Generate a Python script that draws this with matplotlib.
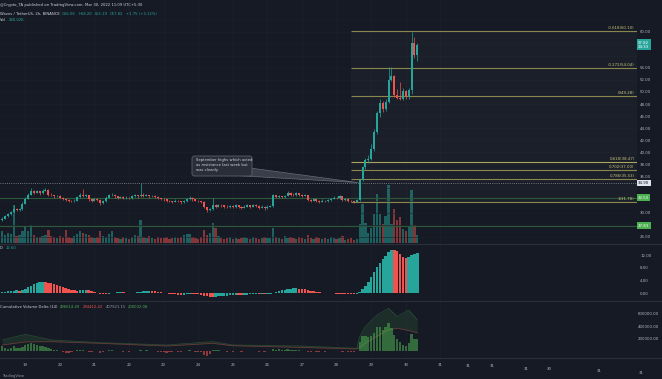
import numpy as np
import matplotlib
matplotlib.use('Agg')
import matplotlib.pyplot as plt
from matplotlib.patches import Rectangle, FancyBboxPatch, Polygon
from matplotlib.transforms import blended_transform_factory

# ---------------- data (2h bars, index 0 = Mar 19 00:00) ----------------
first_index = -8
first_open = 28.8
closes = [29.0, 29.4, 29.7, 30.1, 30.6, 30.5, 30.6, 31.5,
          32.3, 33.0, 33.6, 33.3, 33.5, 33.2, 33.6, 33.8, 33.0, 32.9, 32.7, 32.8,
          32.5, 32.3, 32.1, 32.0, 31.9, 32.0, 32.6, 33.0, 32.8, 32.9, 32.2, 32.0,
          32.3, 32.1, 31.6, 31.9, 32.5, 32.9, 33.0, 32.7, 32.5, 32.6, 32.4, 32.5,
          32.4, 32.7, 32.9, 32.7, 33.0, 32.8, 32.9, 32.7, 32.8, 32.6, 32.4, 32.3,
          32.2, 32.0, 31.9, 31.8, 32.0, 31.9, 31.7, 31.9, 32.2, 32.5, 32.2, 32.0,
          31.9, 31.8, 30.9, 30.4, 30.6, 31.2, 31.0, 31.3, 31.2, 31.0, 30.9, 31.1,
          30.9, 31.2, 31.0, 30.8, 31.0, 31.2, 31.0, 31.3, 31.1, 30.8, 31.0, 30.7,
          31.0, 31.1, 32.9, 32.6, 32.7, 32.6, 32.8, 33.3, 33.0, 32.9, 33.2, 33.0,
          32.8, 32.9, 32.1, 32.0, 32.2, 32.0, 31.8, 32.0, 31.9, 32.1, 32.3, 32.5,
          32.4, 32.7, 32.1, 32.3, 32.0, 31.9, 31.8, 32.1, 35.4, 37.5, 38.7, 38.9,
          40.6, 43.3, 46.6, 48.2, 47.1, 48.4, 52.0, 52.6, 49.5, 49.0, 48.9, 50.2,
          49.1, 50.3, 58.1, 56.07, 57.82]
highs = [29.3, 29.6, 29.9, 30.3, 31.2, 30.8, 30.8, 31.7,
         32.6, 33.3, 34.0, 33.8, 33.8, 33.6, 33.9, 34.1, 33.9, 33.2, 33.0, 33.0,
         32.9, 32.6, 32.4, 32.3, 32.1, 32.2, 32.8, 33.2, 33.9, 33.1, 33.0, 32.4,
         32.5, 32.4, 32.2, 32.1, 32.7, 33.1, 33.3, 33.1, 32.8, 32.8, 32.7, 32.7,
         32.6, 32.9, 33.1, 33.0, 34.9, 33.2, 33.1, 33.0, 33.0, 32.9, 32.7, 32.5,
         32.4, 32.3, 32.1, 32.0, 32.2, 32.1, 32.0, 32.1, 32.4, 32.7, 32.6, 32.3,
         32.1, 32.0, 31.9, 31.0, 30.8, 32.4, 31.4, 31.5, 31.4, 31.3, 31.2, 31.3,
         31.2, 31.4, 31.3, 31.1, 31.2, 31.4, 31.3, 31.5, 31.4, 31.2, 31.2, 31.1,
         31.2, 31.3, 33.1, 33.0, 32.9, 32.8, 33.0, 33.5, 33.4, 33.2, 33.4, 33.3,
         33.1, 33.1, 33.0, 32.3, 32.4, 32.3, 32.1, 32.2, 32.1, 32.3, 32.5, 32.7,
         32.6, 32.9, 32.8, 32.5, 32.4, 32.1, 32.0, 32.3, 35.6, 37.8, 39.0, 39.6,
         41.4, 43.9, 46.9, 48.8, 48.5, 48.9, 54.2, 54.2, 52.8, 50.5, 51.6, 50.6,
         50.4, 50.6, 60.0, 59.1, 58.2]
lows = [28.6, 28.9, 29.3, 29.6, 29.9, 30.3, 30.3, 30.5,
        31.4, 32.2, 32.9, 33.1, 33.2, 33.0, 33.1, 33.5, 32.8, 32.7, 32.5, 32.6,
        32.4, 32.1, 32.0, 31.8, 31.7, 31.7, 31.9, 32.5, 32.6, 32.6, 32.0, 31.8,
        31.9, 31.9, 31.3, 31.5, 31.8, 32.4, 32.7, 32.5, 32.3, 32.4, 32.2, 32.3,
        32.2, 32.3, 32.6, 32.5, 32.6, 32.6, 32.7, 32.5, 32.6, 32.4, 32.2, 32.1,
        32.0, 31.8, 31.7, 31.6, 31.7, 31.7, 31.5, 31.6, 31.8, 32.1, 32.0, 31.9,
        31.7, 31.6, 30.7, 30.1, 30.2, 30.5, 30.8, 30.9, 31.0, 30.8, 30.7, 30.8,
        30.7, 30.8, 30.8, 30.6, 30.7, 30.9, 30.8, 30.9, 30.9, 30.6, 30.7, 30.5,
        30.6, 30.9, 31.0, 32.4, 32.5, 32.4, 32.5, 32.7, 32.8, 32.7, 32.8, 32.8,
        32.6, 32.7, 31.9, 31.8, 31.9, 31.8, 31.6, 31.7, 31.7, 31.8, 32.0, 32.2,
        32.2, 32.3, 31.9, 32.0, 31.8, 31.7, 31.6, 31.7, 32.0, 35.2, 37.3, 38.3,
        38.7, 40.2, 43.0, 45.8, 46.7, 46.8, 48.2, 51.8, 49.2, 48.8, 48.6, 48.7,
        48.9, 48.9, 49.6, 55.6, 55.19]
volumes_k = [420, 280, 350, 315, 1330, 245, 280, 420,
             595, 420, 630, 280, 210, 210, 245, 280, 455, 245, 210, 175,
             245, 210, 455, 210, 175, 245, 315, 420, 350, 315, 280, 210,
             175, 210, 420, 245, 210, 315, 420, 210, 175, 140, 210, 175,
             140, 210, 280, 245, 805, 210, 175, 245, 175, 140, 210, 175,
             175, 210, 140, 175, 210, 175, 210, 280, 315, 315, 210, 175,
             140, 210, 455, 280, 350, 700, 525, 245, 175, 140, 175, 210,
             140, 175, 140, 175, 210, 175, 140, 210, 175, 140, 175, 210,
             175, 175, 525, 210, 175, 140, 245, 175, 210, 175, 140, 210,
             175, 140, 280, 175, 140, 210, 175, 140, 175, 140, 210, 175,
             140, 175, 245, 105, 140, 175, 105, 140, 675, 1375, 700, 350,
             525, 1015, 1715, 1015, 665, 945, 2030, 665, 1190, 805, 910, 490,
             420, 560, 1855, 630, 280]
macd_hist = [0.5, 0.5, 0.6, 0.7, 0.8, 0.9, 0.8, 1.2,
             1.5, 1.9, 2.4, 2.9, 3.3, 3.6, 3.7, 3.6, 3.4, 3.2, 3.0, 2.7,
             2.4, 2.1, 1.8, 1.5, 1.2, 1.0, 0.85, 0.9, 1.0, 1.05, 1.0, 0.7,
             0.4, 0.2, -0.1, -0.25, -0.3, -0.2, 0.0, 0.2, 0.3, 0.35, 0.3, 0.25,
             0.2, 0.15, 0.2, 0.3, 0.5, 0.6, 0.7, 0.75, 0.7, 0.6, 0.45, 0.3,
             0.2, 0.05, -0.1, -0.25, -0.3, -0.4, -0.45, -0.4, -0.3, -0.2, -0.25, -0.3,
             -0.35, -0.4, -0.7, -1.0, -1.1, -1.15, -1.1, -1.0, -0.9, -0.8, -0.7, -0.6,
             -0.55, -0.5, -0.52, -0.55, -0.45, -0.4, -0.35, -0.3, -0.25, -0.3, -0.25, -0.3,
             -0.25, -0.2, 0.2, 0.5, 0.75, 0.95, 1.15, 1.35, 1.5, 1.55, 1.6, 1.5,
             1.4, 1.25, 1.0, 0.8, 0.6, 0.45, 0.3, 0.2, 0.1, 0.05, 0.0, -0.05,
             -0.1, -0.12, -0.15, -0.2, -0.25, -0.3, -0.32, -0.2, 0.5, 1.3, 2.3, 3.7,
             5.0, 6.6, 8.2, 9.6, 10.8, 11.9, 12.9, 13.8, 13.7, 13.2, 12.4, 11.5,
             11.0, 11.6, 12.1, 12.4, 12.6]
cvd_k = [90, 50, 45, 55, 80, 60, 50, 70,
         105, 110, 130, 125, 95, 80, 80, 75, 50, 45, 30, 20,
         10, -15, -25, -20, -10, 10, 20, 25, 20, 15, -10, -15,
         10, 5, -20, -10, 10, 20, 25, 15, 10, 12, -8, 8,
         -8, 10, 15, 12, 20, 15, 18, 10, 12, 8, -10, -12,
         -15, -18, -15, -12, 8, -10, -15, 10, 15, 20, 12, -8,
         -10, -12, -60, -70, -40, 30, 25, 30, 15, 10, -10, 10,
         -8, 12, 8, -10, 10, 12, 8, 15, 10, -10, 8, -12,
         10, 12, 35, 30, 32, 28, 30, 35, 25, 22, 25, 20,
         15, 15, -10, -12, 8, -10, -15, 8, -8, 10, 12, 15,
         10, 12, -15, 8, -10, -15, -12, 10, 157, 236, 236, 225,
         236, 290, 383, 383, 340, 383, 446, 367, 262, 194, 157, 105,
         89, 130, 278, 194, 200]
cvd_line_idx = [-8, 0, 9, 26, 49, 65, 72, 95, 115, 116, 118, 122, 126, 129, 133, 136]
cvd_upper_k = [181, 270, 181, 139, 102, 155, 102, 86, 50, 233, 391, 575, 680, 549, 654, 497]
cvd_lower_k = [102, 150, 155, 128, 86, 128, 90, 65, 39, 60, 128, 240, 340, 365, 330, 294]

day_labels = ['19', '20', '21', '22', '23', '24', '25', '26', '27', '28', '29', '30', '31']
fib_start_idx = 113
fib_prices = [60.10, 54.04, 49.28, 38.47, 37.00, 35.53, 31.78]
fib_labels = ['-0.618(60.10)', '-0.272(54.04)', '0(49.28)', '0.618(38.47)',
              '0.702(37.00)', '0.786(35.53)', '1(31.78)']
price_ticks = [26, 30, 36, 38, 40, 42, 44, 46, 48, 50, 52, 54, 60]
macd_ticks = [0, 4, 8, 12]
cvd_ticks_k = [200, 400, 600]
support_levels = [32.50, 27.83]
dotted_level = 34.90
last_price = 57.82

# ---------------- style ----------------
W, H = 662, 379
BG = '#161a25'
UP = '#26a69a'
DN = '#ef5350'
TXT = '#b2b5be'
GRID = '#1d212c'
FIB = '#8a874c'
FS = 2.8
HFS = 2.7

fig = plt.figure(figsize=(W / 100, H / 100), dpi=100, facecolor=BG)
plt.rcParams['font.family'] = ['DejaVu Sans']

PLOT_R = 637
def rect(top, bottom, left=0, right=PLOT_R):
    return [left / W, 1 - bottom / H, (right - left) / W, (bottom - top) / H]

XMIN, XMAX = -8.776, 212.2
t = np.arange(first_index, first_index + len(closes))
c = np.array(closes)
o = np.r_[first_open, c[:-1]]
hi = np.array(highs)
lo = np.array(lows)
up = c >= o
cols = np.where(up, UP, DN)
day_pos = np.arange(len(day_labels)) * 12

# volume axes (behind)
ax_v = fig.add_axes(rect(0, 243))
ax_v.set_facecolor(BG)
ax_v.set_xlim(XMIN, XMAX)
ax_v.set_ylim(0, 8505)
ax_v.axis('off')
for d in day_pos:
    ax_v.axvline(d, color=GRID, lw=0.5, zorder=0)
ax_v.bar(t, volumes_k, width=0.8, color=cols, alpha=0.5, linewidth=0, zorder=2)

# price axes
ax_p = fig.add_axes(rect(0, 243))
ax_p.set_facecolor('none')
ax_p.set_xlim(XMIN, XMAX)
ax_p.set_ylim(24.958, 65.257)
for s in ax_p.spines.values():
    s.set_visible(False)
ax_p.set_xticks([])
ax_p.yaxis.tick_right()
ax_p.set_yticks(price_ticks)
ax_p.set_yticklabels([f'{v:.2f}' for v in price_ticks])
ax_p.tick_params(axis='y', length=0, pad=2.2, labelsize=FS, labelcolor=TXT)
for p in range(26, 64, 2):
    ax_p.axhline(p, color=GRID, lw=0.4, zorder=0)

# fib background and lines
ax_p.add_patch(Rectangle((fib_start_idx, fib_prices[-1]), XMAX - fib_start_idx,
                         fib_prices[0] - fib_prices[-1], facecolor='white',
                         alpha=0.025, linewidth=0, zorder=0.5))
for lvl, lab in zip(fib_prices, fib_labels):
    colr = '#aaa65c' if lab.startswith('0.618') else FIB
    ax_p.hlines(lvl, fib_start_idx, XMAX, color=colr, lw=0.8, zorder=1)
    ax_p.text(XMAX - 0.8, lvl + 0.15, lab, color='#c9c57a', fontsize=FS,
              ha='right', va='bottom', zorder=5)

for lvl in support_levels:
    ax_p.axhline(lvl, color='#2c5a38', lw=0.8, zorder=1)
ax_p.axhline(dotted_level, color='#8f929b', lw=0.6, ls=(0, (1, 1.6)), zorder=1)

# candles
bottoms = np.minimum(o, c)
heights = np.maximum(np.abs(c - o), 0.05)
ax_p.vlines(t, lo, hi, colors=cols, lw=0.5, zorder=3)
ax_p.bar(t, heights, bottom=bottoms, width=0.7, color=cols, linewidth=0, zorder=4)

# right-axis price boxes
btr = blended_transform_factory(ax_p.transAxes, ax_p.transData)
def pbox(price, text, fc, tc, size=FS):
    ax_p.text(1.0015, price, text, transform=btr, fontsize=size, color=tc,
              ha='left', va='center', clip_on=False, zorder=10, linespacing=1.1,
              bbox=dict(boxstyle='square,pad=0.35', fc=fc, ec='none'))
pbox(last_price, f'{last_price:.2f}\n24:33', UP, 'white')
pbox(dotted_level, f'{dotted_level:.2f}', '#e0e3eb', '#131722')
pbox(support_levels[0], f'{support_levels[0]:.2f}', '#4caf50', 'white')
pbox(support_levels[1], f'{support_levels[1]:.2f}', '#4caf50', 'white')

# MACD-type histogram
ax_m = fig.add_axes(rect(244, 300))
ax_m.set_facecolor(BG)
ax_m.set_xlim(XMIN, XMAX)
ax_m.set_ylim(-2.11, 15.55)
for s in ax_m.spines.values():
    s.set_visible(False)
ax_m.set_xticks([])
ax_m.yaxis.tick_right()
ax_m.set_yticks(macd_ticks)
ax_m.set_yticklabels([f'{v:.2f}' for v in macd_ticks])
ax_m.tick_params(axis='y', length=0, pad=2.2, labelsize=FS, labelcolor=TXT)
for d in day_pos:
    ax_m.axvline(d, color=GRID, lw=0.5, zorder=0)
mh = np.array(macd_hist)
mcol = np.where(np.r_[True, mh[1:] >= mh[:-1]], UP, DN)
ax_m.bar(t, mh, width=0.85, color=mcol, linewidth=0)

# CVD
ax_c = fig.add_axes(rect(301, 357))
ax_c.set_facecolor(BG)
ax_c.set_xlim(XMIN, XMAX)
ax_c.set_ylim(-87, 795)
for s in ax_c.spines.values():
    s.set_visible(False)
ax_c.yaxis.tick_right()
ax_c.set_yticks(cvd_ticks_k)
ax_c.set_yticklabels([f'{v * 1000:.2f}' for v in cvd_ticks_k])
ax_c.tick_params(axis='y', length=0, pad=0.8, labelsize=FS, labelcolor=TXT)
ax_c.set_xticks(day_pos)
ax_c.set_xticklabels(day_labels)
ax_c.tick_params(axis='x', length=0, pad=4.0, labelsize=FS, labelcolor=TXT)
for d in day_pos:
    ax_c.axvline(d, color=GRID, lw=0.5, zorder=0)
ax_c.fill_between(cvd_line_idx, cvd_lower_k, cvd_upper_k, color='#4caf50',
                  alpha=0.13, linewidth=0, zorder=1)
ax_c.plot(cvd_line_idx, cvd_upper_k, color='#4caf50', alpha=0.3, lw=0.6, zorder=2)
ax_c.plot(cvd_line_idx, cvd_lower_k, color='#ef5350', alpha=0.35, lw=0.6, zorder=2)
cv = np.array(cvd_k)
ax_c.bar(t, cv, width=0.8, color=np.where(cv >= 0, '#4caf50', '#ef5350'),
         alpha=0.55, linewidth=0, zorder=3)

# overlay (pixel coordinates) for texts and decorations
ax_o = fig.add_axes([0, 0, 1, 1])
ax_o.set_xlim(0, W)
ax_o.set_ylim(H, 0)
ax_o.axis('off')
ax_o.set_facecolor('none')
for y in (243.5, 300.5, 357.5):
    ax_o.plot([0, W], [y, y], color='#2a2e39', lw=0.8)

renderer = fig.canvas.get_renderer()
def seq_text(x0, y, parts, fs=HFS, gap=2.5):
    x = x0
    for s, colr in parts:
        tt = ax_o.text(x, y, s, color=colr, fontsize=fs, va='center', ha='left')
        bb = tt.get_window_extent(renderer)
        x = bb.x1 + gap

seq_text(0, 5, [('@Crypto_TA published on TradingView.com, Mar 30, 2022 11:09 UTC+5:30', '#d1d4dc')])
seq_text(0, 14, [('Waves / TetherUS, 2h, BINANCE', '#d1d4dc'), ('O56.06', UP), ('H58.20', UP),
                 ('L55.19', UP), ('C57.82', UP), ('+1.75 (+3.12%)', UP)])
seq_text(0, 20, [('Vol', '#d1d4dc'), ('280.02K', UP)])
seq_text(0, 248, [('D', '#d1d4dc'), ('12.60', UP)])
seq_text(0, 307, [('Cumulative Volume Delta (14)', '#d1d4dc'), ('496614.49', '#4caf50'),
                  ('294412.42', '#ef5350'), ('407921.15', '#9598a1'),
                  ('200002.08', '#4caf50')])

# odd extra time labels at the right of the time scale
for x, y, s in [(468.6, 366, '31'), (492.6, 366, '31'), (526, 368.5, '31'),
                (549.6, 368.5, '30'), (599, 370.5, '31'), (641.6, 372.5, '31')]:
    ax_o.text(x, y, s, color=TXT, fontsize=FS, va='center', ha='center')

ax_o.text(2, 376, 'TradingView', color='#9598a1', fontsize=2.6, va='center', ha='left')

# callout
ax_o.add_patch(Polygon([(236, 175.5), (250, 168), (358, 182.6)], closed=True,
                       facecolor='#3a3e4a', edgecolor='#686b76', lw=0.5, zorder=20))
ax_o.add_patch(FancyBboxPatch((192, 156), 60, 20, boxstyle='round,pad=0,rounding_size=2.5',
                              facecolor='#2a2e39', edgecolor='#5d606b', lw=0.6, zorder=21))
for k, line in enumerate(['September highs which acted', 'as resistance last week but',
                          'was cleanly']):
    ax_o.text(196, 160.5 + k * 4.6, line, color='#d1d4dc', fontsize=2.7,
              va='center', ha='left', zorder=22)

fig.savefig('out.png', dpi=100, facecolor=BG)
